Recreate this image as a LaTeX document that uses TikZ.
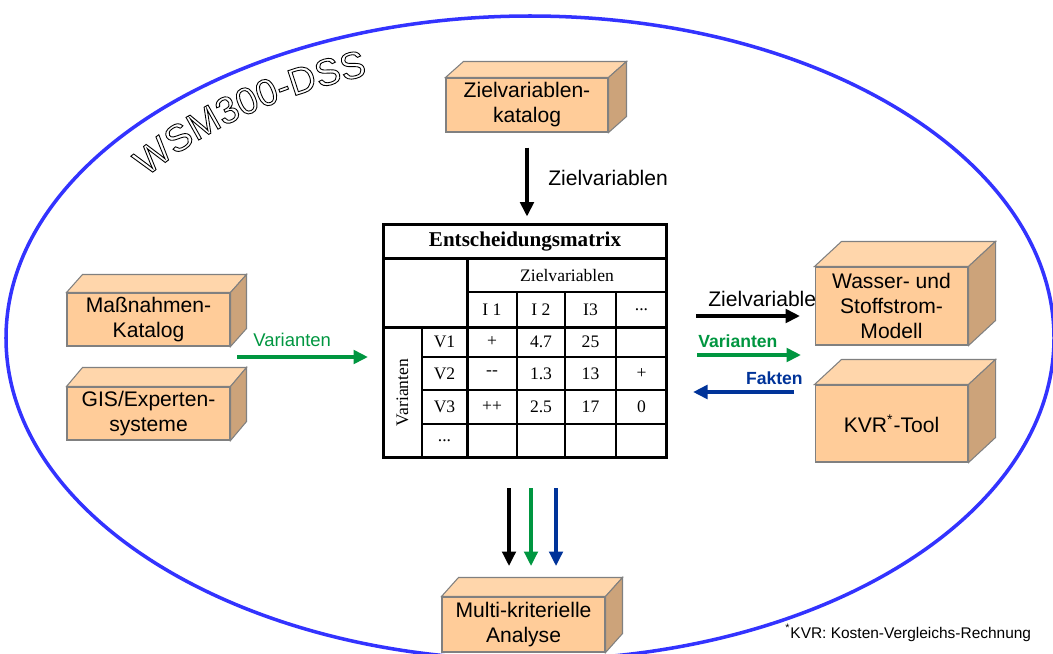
\documentclass[tikz,border=0pt]{standalone}
\usepackage{fontspec}
\setmainfont{Liberation Sans}
\newfontfamily\timesfont{Liberation Serif}
\usetikzlibrary{calc,arrows.meta,decorations.text}

\definecolor{boxfront}{RGB}{255,204,153}
\definecolor{boxtop}{RGB}{255,214,171}
\definecolor{boxside}{RGB}{204,163,122}
\definecolor{boxedge}{RGB}{128,128,128}
\definecolor{dssblue}{RGB}{51,51,255}
\definecolor{varigreen}{RGB}{0,150,64}
\definecolor{faktblue}{RGB}{0,51,153}

% top and right face of a block node
\newcommand{\blockfaces}[3]{%
  \filldraw[fill=boxtop, draw=boxedge, line width=0.6pt] (#1.north west) -- ++(#2,#3) -- ($(#1.north east)+(#2,#3)$) -- (#1.north east) -- cycle;
  \filldraw[fill=boxside, draw=boxedge, line width=0.6pt] (#1.north east) -- ++(#2,#3) -- ($(#1.south east)+(#2,#3)$) -- (#1.south east) -- cycle;}
\newcommand{\outlinetext}{\special{pdf:literal direct 1 Tr 0.5 w}}
\newcommand{\wsmfont}{\fontsize{21.5}{21}\selectfont\outlinetext}

\begin{document}
\begin{tikzpicture}[x=0.02cm, y=-0.02cm,
  >={Triangle[length=0.29cm,width=0.27cm]},
  block/.style={draw=boxedge, fill=boxfront, line width=0.6pt, align=center, inner sep=0pt, font=\fontsize{12}{14.2}\selectfont},
  arr/.style={->, line width=2.1pt},
  lbl/.style={anchor=base west, inner sep=0pt, font=\fontsize{12}{14}\selectfont},
  cell/.style={font=\timesfont\fontsize{10}{12}\selectfont, inner sep=0pt},
  thickline/.style={line width=1.7pt},
  midline/.style={line width=1.1pt},
  thinline/.style={line width=0.7pt}]

\useasboundingbox (0,0) rectangle (1053,653);

% system boundary
\draw[dssblue, line width=2pt] (530,338) ellipse [x radius=524, y radius=322];

% Entscheidungsmatrix
\node[draw, line width=1.7pt, minimum width=5.68cm, minimum height=4.68cm, inner sep=0pt] (mat) at (525,341) {};
\draw[thickline] (383,258) -- (667,258);
\draw[thickline] (467,258) -- (467,458);
\draw[thickline] (383,327) -- (667,327);
\draw[midline] (422,327) -- (422,458);
\draw[midline] (467,292) -- (667,292);
\draw[thinline] (517,292) -- (517,458);
\draw[thinline] (565,292) -- (565,458);
\draw[thinline] (616,292) -- (616,458);
\draw[thinline] (422,357) -- (667,357);
\draw[thinline] (422,390) -- (667,390);
\draw[thinline] (422,424) -- (667,424);

\node[cell, font=\timesfont\bfseries\fontsize{12}{14}\selectfont] (title) at (525,241.5) {Entscheidungsmatrix};
\node[cell] (zvhead) at (567,275) {Zielvariablen};
\node[cell] (i1) at (492,309.5) {I 1};
\node[cell] (i2) at (541,309.5) {I 2};
\node[cell] (i3) at (590.5,309.5) {I3};
\node[cell] (idots) at (641.5,309.5) {...};
\node[cell, rotate=90] (varhead) at (402.5,392.5) {Varianten};
\node[cell] (v1) at (444.5,342) {V1};
\node[cell] (v2) at (444.5,373.5) {V2};
\node[cell] (v3) at (444.5,407) {V3};
\node[cell] (vdots) at (444.5,441) {...};
\node[cell] (v1a) at (492,342) {+};
\node[cell] (v1b) at (541,342) {4.7};
\node[cell] (v1c) at (590.5,342) {25};
\node[cell] (v2a) at (492,373.5) {{-}{-}};
\node[cell] (v2b) at (541,373.5) {1.3};
\node[cell] (v2c) at (590.5,373.5) {13};
\node[cell] (v2d) at (641.5,373.5) {+};
\node[cell] (v3a) at (492,407) {++};
\node[cell] (v3b) at (541,407) {2.5};
\node[cell] (v3c) at (590.5,407) {17};
\node[cell] (v3d) at (641.5,407) {0};

% labels (drawn before the blocks)
\node[lbl] (zvlbl) at (548,185) {Zielvariablen};
\node[lbl, varigreen, font=\fontsize{10.5}{12}\selectfont] (varl) at (253,346) {Varianten};
\node[lbl] (zvr) at (708,306) {Zielvariable};
\node[lbl, varigreen, font=\bfseries\fontsize{10}{12}\selectfont] (varr) at (698,347) {Varianten};
\node[lbl, anchor=base east, faktblue, font=\bfseries\fontsize{10}{12}\selectfont] (fakt) at (803,384) {Fakten};

% blocks
\node[block, minimum width=3.24cm, minimum height=1.08cm] (kat) at (527,105) {Zielvariablen-\\katalog};
\node[block, minimum width=3.26cm, minimum height=1.06cm] (mass) at (148.5,319.5) {Maßnahmen-\\Katalog};
\node[block, minimum width=3.26cm, minimum height=1.06cm] (gis) at (148.5,413.5) {GIS/Experten-\\systeme};
\node[block, minimum width=3.06cm, minimum height=1.56cm] (wss) at (891.5,306) {Wasser- und\\Stoffstrom-\\Modell};
\node[block, minimum width=3.06cm, minimum height=1.54cm] (kvr) at (891.5,423.5) {KVR\textsuperscript{*}-Tool};
\node[block, minimum width=3.26cm, minimum height=1.1cm] (mka) at (523.5,624.5) {Multi-kriterielle\\Analyse};
\blockfaces{kat}{18}{-16}
\blockfaces{mass}{16}{-18}
\blockfaces{gis}{16}{-19}
\blockfaces{wss}{27}{-25}
\blockfaces{kvr}{27}{-25}
\blockfaces{mka}{17}{-19}

% arrows
\coordinate (vstart) at (237,357);
\coordinate (vend) at (368,357);
\coordinate (zstart) at (696,316);
\coordinate (zend) at (800,316);
\coordinate (gstart) at (697,355);
\coordinate (gend) at (801,355);
\coordinate (fstart) at (794,392);
\coordinate (fend) at (693,392);
\coordinate (k1) at (509,488);
\coordinate (k2) at (509,566);
\coordinate (g1) at (531,488);
\coordinate (g2) at (531,566);
\coordinate (b1) at (556,488);
\coordinate (b2) at (556,566);

\draw[arr, shorten <=0.3cm, shorten >=0.12cm] (kat.south) -- (kat.south |- mat.north);
\draw[arr, varigreen] (vstart) -- (vend);
\draw[arr] (zstart) -- (zend);
\draw[arr, varigreen] (gstart) -- (gend);
\draw[arr, faktblue] (fstart) -- (fend);
\draw[arr, line width=1.9pt] (k1) -- (k2);
\draw[arr, line width=1.9pt, varigreen] (g1) -- (g2);
\draw[arr, line width=1.9pt, faktblue] (b1) -- (b2);

\node[anchor=base west, inner sep=0pt, font=\fontsize{8.8}{10}\selectfont] (fn) at (785,638) {\textsuperscript{*}KVR: Kosten-Vergleichs-Rechnung};

% outlined title along the ellipse
\path[decorate, decoration={text along path, text align=center, text={|\wsmfont|WSM300-DSS}}]
  (530,338) ++(-152:468 and 280) arc [start angle=-152, end angle=-105, x radius=468, y radius=280];
\end{tikzpicture}
\end{document}
